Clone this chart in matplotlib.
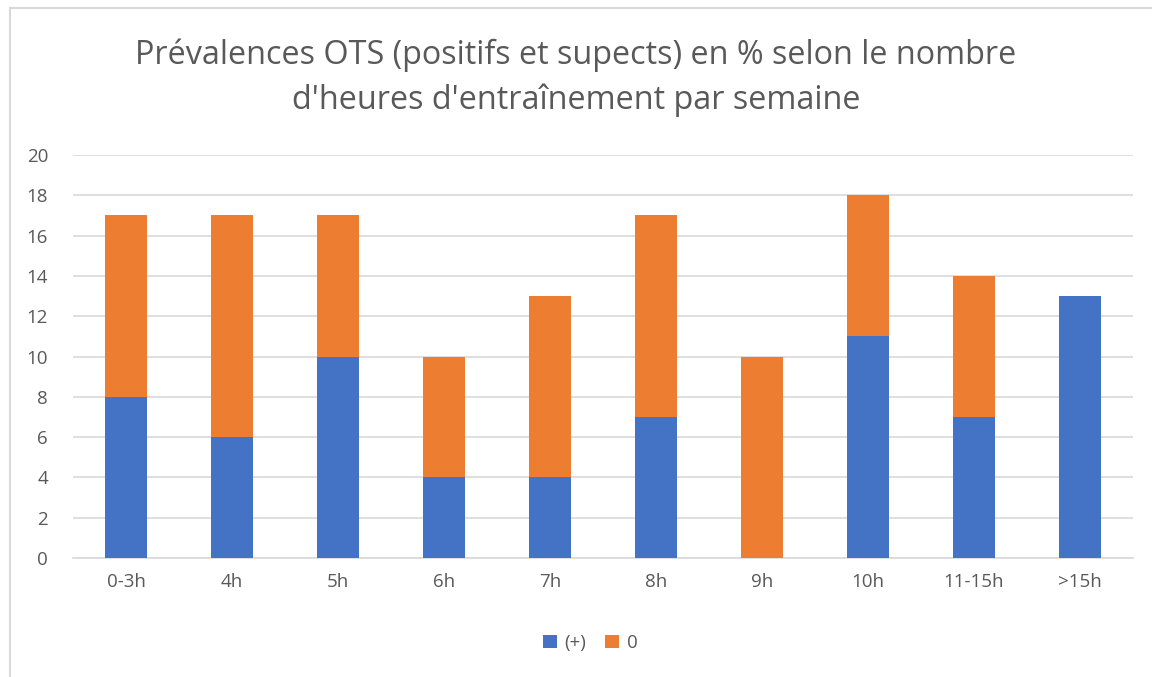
import numpy as np
import matplotlib.pyplot as plt
from matplotlib.patches import Rectangle

# Données
categories = ["0-3h", "4h", "5h", "6h", "7h", "8h", "9h", "10h", "11-15h", ">15h"]
positifs = [8, 6, 10, 4, 4, 7, 0, 11, 7, 13]
zero = [9, 11, 7, 6, 9, 10, 10, 7, 7, 0]

blue = "#4472C4"
orange = "#ED7D31"
grey_txt = "#595959"
grid_col = "#D9D9D9"

plt.rcParams['font.family'] = ['Open Sans', 'DejaVu Sans']

fig = plt.figure(figsize=(11.52, 6.77), dpi=100)

# cadre du graphique
fig.patches.append(Rectangle((10 / 1152, -0.1), 1.2, 1.1 - 8 / 677,
                             transform=fig.transFigure, fill=False,
                             edgecolor=grid_col, linewidth=1.5))

ax = fig.add_axes([73 / 1152, 1 - 558 / 677, (1133 - 73) / 1152, (558 - 155) / 677])

x = np.arange(len(categories))
ax.bar(x, positifs, width=0.4, color=blue, label="(+)", zorder=3)
ax.bar(x, zero, width=0.4, bottom=positifs, color=orange, label="0", zorder=3)

ax.set_xlim(-0.5, len(categories) - 0.5)
ax.set_ylim(0, 20)
ax.set_yticks(range(0, 21, 2))
ax.set_xticks(x)
ax.set_xticklabels(categories)
ax.grid(axis='y', color=grid_col, linewidth=1.2, zorder=0)
for s in ["top", "right", "left"]:
    ax.spines[s].set_visible(False)
ax.spines["bottom"].set_color(grid_col)
ax.spines["bottom"].set_linewidth(1.2)
ax.tick_params(axis='both', length=0, labelsize=13.5, labelcolor=grey_txt)
ax.tick_params(axis='x', pad=11)
ax.tick_params(axis='y', pad=18)

fig.text(0.5, 1 - 55 / 677, "Prévalences OTS (positifs et supects) en % selon le nombre",
         ha='center', va='center', fontsize=23.3, color=grey_txt)
fig.text(0.5, 1 - 100 / 677, "d'heures d'entraînement par semaine",
         ha='center', va='center', fontsize=23.3, color=grey_txt)

fig.legend(loc='center', bbox_to_anchor=(590 / 1152, 1 - 643 / 677), ncol=2,
           frameon=False, fontsize=13.5, labelcolor=grey_txt, handlelength=0.75,
           handleheight=0.75, handletextpad=0.4, columnspacing=1.0)

fig.savefig("out.png", dpi=100)
